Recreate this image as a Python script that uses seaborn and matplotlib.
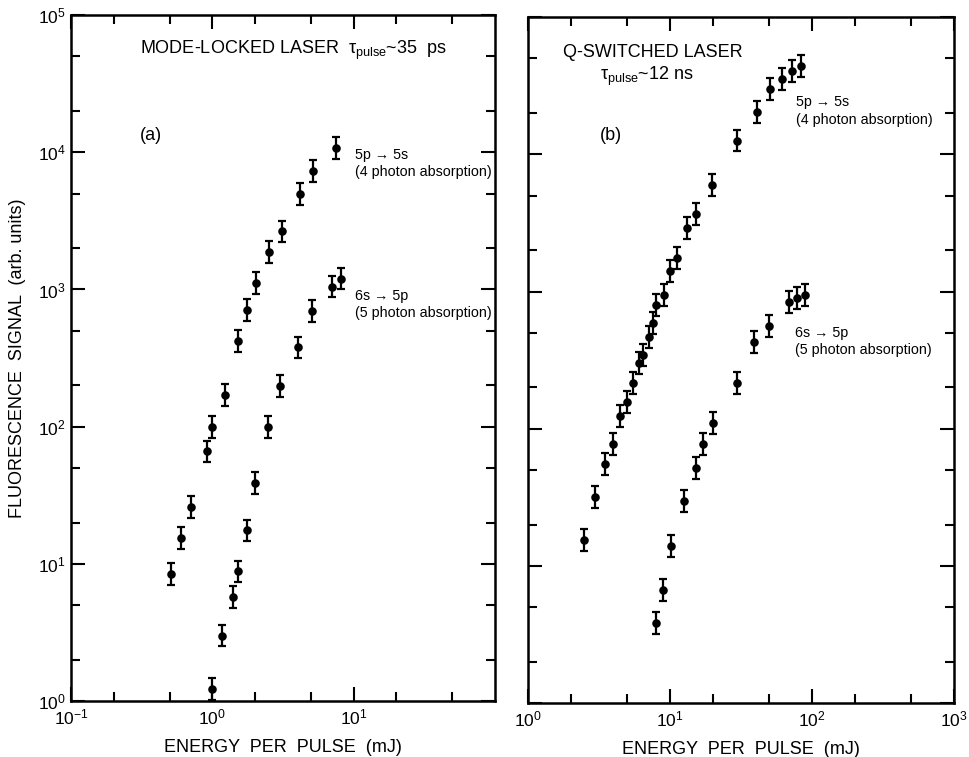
import numpy as np
import pandas as pd
import seaborn as sns
import matplotlib.pyplot as plt
from matplotlib.ticker import LogLocator, NullFormatter

# panel (a): mode-locked laser
a_5p5s_x = [0.51, 0.60, 0.71, 0.91, 1.0, 1.22, 1.52, 1.76, 2.04, 2.52, 3.11, 4.17, 5.14, 7.46]
a_5p5s_y = [8.4, 15.5, 26, 66, 100, 170, 420, 710, 1120, 1880, 2650, 4950, 7300, 10800]
a_6s5p_x = [1.0, 1.17, 1.41, 1.52, 1.76, 2.01, 2.48, 3.01, 4.03, 5.06, 7.0, 8.2]
a_6s5p_y = [1.22, 3.0, 5.7, 8.8, 17.5, 39, 100, 197, 378, 700, 1050, 1200]

# panel (b): Q-switched laser
b_5p5s_x = [2.48, 2.96, 3.49, 3.97, 4.45, 4.98, 5.5, 6.05, 6.45, 7.1, 7.6, 7.97, 9.08,
            10.0, 11.2, 13.2, 15.2, 19.8, 29.6, 41, 50.6, 61.5, 72.3, 83.7]
b_5p5s_y = [15.4, 31.8, 55, 77, 124, 156, 215, 300, 344, 465, 590, 795, 942,
            1410, 1750, 2900, 3660, 5960, 12600, 20300, 29900, 35300, 40400, 44000]
b_6s5p_x = [7.97, 8.93, 10.2, 12.6, 15.2, 17.1, 20.1, 29.6, 39, 49.8, 68.9, 78.4, 89.3]
b_6s5p_y = [3.83, 6.7, 13.9, 29.7, 51.6, 77, 110, 216, 427, 560, 837, 893, 942]

err_factor = 1.2  # multiplicative error bar size

sns.set_style("ticks")
plt.rcParams['font.family'] = ['Liberation Sans', 'DejaVu Sans']
plt.rcParams['mathtext.fontset'] = 'custom'
plt.rcParams['mathtext.rm'] = 'Liberation Sans'
plt.rcParams['mathtext.it'] = 'Liberation Sans'
plt.rcParams['mathtext.default'] = 'regular'
plt.rcParams['text.color'] = 'black'
plt.rcParams['axes.labelcolor'] = 'black'
plt.rcParams['xtick.color'] = 'black'
plt.rcParams['ytick.color'] = 'black'

fig = plt.figure(figsize=(9.7, 7.57), dpi=100)
ax1 = fig.add_axes([0.0732, 0.074, 0.4371, 0.906])
ax2 = fig.add_axes([0.5443, 0.0713, 0.4392, 0.906])


def draw_series(ax, xs, ys):
    df = pd.DataFrame({"energy": xs, "signal": ys})
    y = df["signal"].to_numpy()
    yerr = [y - y / err_factor, y * err_factor - y]
    ax.errorbar(df["energy"], y, yerr=yerr, fmt='none', ecolor='black',
                elinewidth=1.6, capsize=3, capthick=1.6, zorder=2)
    sns.scatterplot(data=df, x="energy", y="signal", ax=ax, color='black',
                    s=38, edgecolor='black', linewidth=0, zorder=3)


draw_series(ax1, a_5p5s_x, a_5p5s_y)
draw_series(ax1, a_6s5p_x, a_6s5p_y)
draw_series(ax2, b_5p5s_x, b_5p5s_y)
draw_series(ax2, b_6s5p_x, b_6s5p_y)

for ax, xlim in [(ax1, (0.1, 100)), (ax2, (1, 1000))]:
    ax.set_xscale('log')
    ax.set_yscale('log')
    ax.set_xlim(*xlim)
    ax.set_ylim(1, 1e5)
    ax.xaxis.set_major_locator(LogLocator(base=10, numticks=10))
    ax.xaxis.set_minor_locator(LogLocator(base=10, subs=[2, 5], numticks=10))
    ax.yaxis.set_major_locator(LogLocator(base=10, numticks=10))
    ax.yaxis.set_minor_locator(LogLocator(base=10, subs=[2, 5], numticks=10))
    ax.xaxis.set_minor_formatter(NullFormatter())
    ax.yaxis.set_minor_formatter(NullFormatter())
    ax.tick_params(which='both', direction='in', top=True, right=True,
                   width=1.5, colors='black', labelsize=12.5)
    ax.tick_params(axis='x', pad=5)
    ax.tick_params(axis='y', pad=4)
    ax.tick_params(which='major', length=10)
    ax.tick_params(which='minor', length=6.5)
    for sp in ax.spines.values():
        sp.set_linewidth(1.8)
        sp.set_color('black')
    ax.set_xlabel("ENERGY  PER  PULSE  (mJ)", fontsize=13, labelpad=8)
    ax.set_ylabel("")

ax1.set_xticks([0.1, 1, 10])
ax1.set_xticklabels([r"$10^{-1}$", r"$10^{0}$", r"$10^{1}$"])
ax2.set_xticks([1, 10, 100, 1000])
ax2.set_xticklabels([r"$10^{0}$", r"$10^{1}$", r"$10^{2}$", r"$10^{3}$"])
ax1.set_yticks([1, 10, 100, 1e3, 1e4, 1e5])
ax1.set_yticklabels([r"$10^{0}$", r"$10^{1}$", r"$10^{2}$", r"$10^{3}$", r"$10^{4}$", r"$10^{5}$"])
ax2.set_yticks([1, 10, 100, 1e3, 1e4, 1e5])
ax2.set_yticklabels([])
ax1.set_ylabel("FLUORESCENCE  SIGNAL  (arb. units)", fontsize=13, labelpad=8)

# panel (a) texts
ax1.text(0.163, 0.949, r"MODE-LOCKED LASER  $\tau_{pulse}$~35  ps", transform=ax1.transAxes,
         fontsize=13, va='center')
ax1.text(0.163, 0.825, "(a)", transform=ax1.transAxes, fontsize=13, va='center')
ax1.text(0.67, 0.796, "5p \u2192 5s", transform=ax1.transAxes, fontsize=10.3, va='center')
ax1.text(0.67, 0.771, "(4 photon absorption)", transform=ax1.transAxes, fontsize=10.3, va='center')
ax1.text(0.67, 0.590, "6s \u2192 5p", transform=ax1.transAxes, fontsize=10.3, va='center')
ax1.text(0.67, 0.566, "(5 photon absorption)", transform=ax1.transAxes, fontsize=10.3, va='center')

# panel (b) texts
ax2.text(0.082, 0.949, "Q-SWITCHED LASER", transform=ax2.transAxes, fontsize=13, va='center')
ax2.text(0.169, 0.913, r"$\tau_{pulse}$~12 ns", transform=ax2.transAxes, fontsize=13, va='center')
ax2.text(0.169, 0.828, "(b)", transform=ax2.transAxes, fontsize=13, va='center')
ax2.text(0.629, 0.876, "5p \u2192 5s", transform=ax2.transAxes, fontsize=10.3, va='center')
ax2.text(0.629, 0.850, "(4 photon absorption)", transform=ax2.transAxes, fontsize=10.3, va='center')
ax2.text(0.627, 0.539, "6s \u2192 5p", transform=ax2.transAxes, fontsize=10.3, va='center')
ax2.text(0.627, 0.515, "(5 photon absorption)", transform=ax2.transAxes, fontsize=10.3, va='center')

fig.savefig("out.png", dpi=100)
